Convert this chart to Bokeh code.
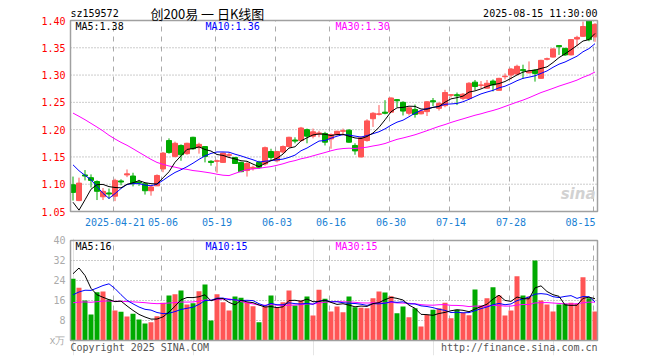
import numpy as np
from bokeh.plotting import figure
from bokeh.models import ColumnDataSource, FixedTicker, Label, NumeralTickFormatter, Range1d
from bokeh.layouts import column
from bokeh.embed import file_html
from bokeh.resources import INLINE

# ---------------- data ----------------
open_ = [1.099, 1.070, 1.117, 1.112, 1.105, 1.077, 1.084, 1.078, 1.106, 1.117,
         1.115, 1.104, 1.101, 1.088, 1.097, 1.128, 1.180, 1.151, 1.171, 1.156,
         1.186, 1.167, 1.169, 1.142, 1.142, 1.140, 1.153, 1.149, 1.140, 1.125,
         1.129, 1.140, 1.137, 1.160, 1.143, 1.159, 1.169, 1.181, 1.180, 1.200,
         1.188, 1.192, 1.193, 1.183, 1.191, 1.197, 1.199, 1.171, 1.150, 1.180,
         1.220, 1.228, 1.232, 1.232, 1.255, 1.250, 1.230, 1.237, 1.229, 1.233,
         1.253, 1.239, 1.244, 1.263, 1.264, 1.257, 1.257, 1.287, 1.281, 1.276,
         1.289, 1.272, 1.297, 1.300, 1.302, 1.310, 1.304, 1.309, 1.294, 1.329,
         1.333, 1.354, 1.349, 1.337, 1.366, 1.371, 1.400, 1.370]
high = [1.114, 1.112, 1.126, 1.118, 1.107, 1.093, 1.092, 1.110, 1.109, 1.127,
        1.121, 1.108, 1.101, 1.097, 1.118, 1.159, 1.184, 1.178, 1.173, 1.176,
        1.187, 1.176, 1.169, 1.144, 1.145, 1.158, 1.158, 1.150, 1.141, 1.141,
        1.134, 1.143, 1.169, 1.165, 1.161, 1.171, 1.187, 1.186, 1.205, 1.202,
        1.202, 1.198, 1.196, 1.193, 1.198, 1.202, 1.201, 1.175, 1.188, 1.219,
        1.232, 1.245, 1.254, 1.259, 1.256, 1.252, 1.241, 1.246, 1.235, 1.252,
        1.258, 1.251, 1.273, 1.265, 1.268, 1.267, 1.287, 1.291, 1.289, 1.291,
        1.292, 1.295, 1.303, 1.313, 1.319, 1.319, 1.325, 1.311, 1.328, 1.332,
        1.349, 1.355, 1.349, 1.366, 1.372, 1.398, 1.400, 1.395]
low = [1.070, 1.069, 1.107, 1.094, 1.071, 1.071, 1.073, 1.069, 1.098, 1.113,
       1.096, 1.097, 1.081, 1.079, 1.097, 1.122, 1.156, 1.149, 1.143, 1.154,
       1.163, 1.156, 1.140, 1.134, 1.121, 1.139, 1.149, 1.137, 1.122, 1.114,
       1.125, 1.128, 1.134, 1.143, 1.140, 1.156, 1.167, 1.175, 1.178, 1.175,
       1.184, 1.186, 1.171, 1.165, 1.189, 1.189, 1.176, 1.154, 1.149, 1.178,
       1.205, 1.226, 1.228, 1.232, 1.241, 1.226, 1.226, 1.222, 1.228, 1.225,
       1.243, 1.235, 1.241, 1.259, 1.245, 1.254, 1.255, 1.272, 1.276, 1.275,
       1.270, 1.272, 1.292, 1.292, 1.300, 1.293, 1.303, 1.288, 1.293, 1.327,
       1.332, 1.337, 1.335, 1.336, 1.353, 1.370, 1.362, 1.361]
close = [1.085, 1.102, 1.115, 1.107, 1.087, 1.087, 1.082, 1.107, 1.104, 1.119,
         1.101, 1.102, 1.088, 1.095, 1.116, 1.157, 1.158, 1.175, 1.154, 1.175,
         1.165, 1.173, 1.151, 1.140, 1.143, 1.157, 1.154, 1.138, 1.123, 1.138,
         1.131, 1.131, 1.167, 1.149, 1.160, 1.169, 1.186, 1.179, 1.203, 1.188,
         1.196, 1.194, 1.177, 1.191, 1.197, 1.198, 1.177, 1.161, 1.185, 1.216,
         1.230, 1.229, 1.230, 1.258, 1.253, 1.234, 1.240, 1.228, 1.234, 1.251,
         1.251, 1.248, 1.268, 1.264, 1.262, 1.265, 1.285, 1.279, 1.282, 1.285,
         1.282, 1.294, 1.298, 1.311, 1.316, 1.308, 1.307, 1.303, 1.327, 1.330,
         1.348, 1.352, 1.337, 1.365, 1.369, 1.389, 1.365, 1.393]
volume = [24.7, 21.1, 16.0, 10.4, 19.3, 19.6, 16.4, 12.0, 11.5, 9.6,
          10.7, 8.4, 6.8, 7.3, 9.7, 15.1, 18.0, 18.5, 20.0, 14.4,
          14.9, 19.7, 22.4, 8.0, 18.5, 15.3, 12.0, 17.6, 17.1, 15.3,
          13.7, 7.3, 13.6, 18.0, 13.1, 15.3, 20.0, 14.0, 16.0, 17.6,
          10.0, 20.3, 16.7, 11.6, 13.6, 11.3, 17.6, 13.3, 13.1, 12.9,
          16.9, 19.6, 19.2, 17.7, 10.9, 13.6, 9.3, 12.9, 5.6, 10.3,
          12.3, 12.9, 15.1, 8.9, 12.3, 11.2, 10.1, 20.4, 14.0, 16.9,
          21.3, 18.0, 10.0, 12.0, 25.7, 18.0, 17.6, 32.0, 16.0, 14.4,
          11.6, 14.4, 14.7, 15.1, 14.7, 25.3, 16.9, 11.6]

# closes / volumes of the 29 sessions before the first drawn candle
# (estimated so that the moving averages start where the reference's do)
prior_close = [1.280, 1.300, 1.310, 1.290, 1.300, 1.320, 1.310, 1.290, 1.280, 1.290,
               1.300, 1.280, 1.290, 1.285, 1.260, 1.250, 1.240, 1.230, 1.220, 1.230,
               1.210, 1.200, 1.190, 1.210, 1.210, 1.175, 1.020, 1.010, 1.045]
prior_volume = [14, 13, 15, 12, 13, 14, 16, 12, 13, 14,
                13, 12, 15, 14, 13, 12, 14, 13, 15, 13,
                10, 9, 11, 10, 9.5, 9.6, 31, 36, 32.2]

date_ticks = [7, 15, 24, 34, 43, 53, 63, 73, 87]
date_labels = ["2025-04-21", "05-06", "05-19", "06-03", "06-16",
               "06-30", "07-14", "07-28", "08-15"]
price_ticks = [1.05, 1.10, 1.15, 1.20, 1.25, 1.30, 1.35, 1.40]
volume_ticks = [0, 8, 16, 24, 32, 40]
volume_unit = "x万"

price_legend = ["MA5:1.38", "MA10:1.36", "MA30:1.30"]
volume_legend = ["MA5:16", "MA10:15", "MA30:15"]
code = "sz159572"
title = "创200易 一 日K线图"
stamp = "2025-08-15 11:30:00"
copyright_text = "Copyright 2025 SINA.COM"
url_text = "http://finance.sina.com.cn"

# ---------------- derived ----------------
RED = "#ff5555"
GREEN = "#00aa00"
n = len(close)
xs = list(range(n))
colors = [RED if c >= o else GREEN for o, c in zip(open_, close)]


def moving_average(prior, series, w):
    full = np.array(list(prior) + list(series), dtype=float)
    off = len(prior)
    return [float(full[off + i - w + 1: off + i + 1].mean()) for i in range(len(series))]


src = ColumnDataSource(dict(
    x=xs, open=open_, high=high, low=low, close=close, volume=volume,
    top=[max(o, c) for o, c in zip(open_, close)],
    bottom=[min(o, c) for o, c in zip(open_, close)],
    color=colors,
    ma5=moving_average(prior_close, close, 5),
    ma10=moving_average(prior_close, close, 10),
    ma30=moving_average(prior_close, close, 30),
    vma5=moving_average(prior_volume, volume, 5),
    vma10=moving_average(prior_volume, volume, 10),
    vma30=moving_average(prior_volume, volume, 30),
))

# ---------------- layout (page pixels) ----------------
PX_PER_IDX = 6.0
P_TOP, P_BOT = price_ticks[-1], price_ticks[0]
PX_PER_PRICE = 191 / (P_TOP - P_BOT)      # 1.40 at y=20, 1.05 at y=211
PX_PER_VOL = 2.5                          # 40 at y=240, 0 at y=340


def ix(px):      # page x -> index
    return (px - 72.5) / PX_PER_IDX


def py(px):      # page y -> price
    return P_TOP - (px - 20) / PX_PER_PRICE


def vy(px):      # page y -> volume
    return 40 - (px - 240) / PX_PER_VOL


MONO = "DejaVu Sans Mono"
CJK = "Noto Sans CJK SC"
GRID_V = "#aaaaaa"
GRID_H = "#999999"
FRAME = "#a0a0a0"
DATE_BLUE = "#1a7fd4"

XL, XR = ix(70), ix(597)                  # visible panel border
x_range = Range1d(ix(68), ix(599))
grid_x = [t - 0.25 for t in date_ticks]
label_x = date_ticks[:-1] + [ix(580)]     # last date label sits left of its line


def style_axis(ax, color, standoff):
    ax.axis_line_color = None
    ax.major_tick_line_color = None
    ax.minor_tick_line_color = None
    ax.major_tick_out = 0
    ax.major_tick_in = 0
    ax.minor_tick_out = 0
    ax.major_label_text_font = MONO
    ax.major_label_text_font_size = "10px"
    ax.major_label_text_color = color
    ax.major_label_standoff = standoff


def lab(p, x, y, text, color="#000000", font=MONO, size="10px", align="left",
        style="normal"):
    p.add_layout(Label(x=x, y=y, text=text, text_color=color, text_font=font,
                       text_font_size=size, text_align=align,
                       text_baseline="middle", text_font_style=style))


# ---------------- price panel ----------------
p1 = figure(frame_width=531, frame_height=213,
            min_border_left=68, min_border_right=20,
            min_border_top=0, min_border_bottom=19,
            x_range=x_range, y_range=Range1d(py(213), py(0)),
            output_backend="svg", toolbar_location=None, tools="")
p1.title.visible = False
p1.background_fill_color = "white"
p1.border_fill_color = "white"
p1.outline_line_color = None
p1.xgrid.visible = False
p1.ygrid.visible = False

p1.xaxis.ticker = FixedTicker(ticks=label_x)
p1.xaxis.major_label_overrides = {t: l for t, l in zip(label_x, date_labels)}
style_axis(p1.xaxis[0], DATE_BLUE, 4)
p1.yaxis.ticker = FixedTicker(ticks=price_ticks)
p1.yaxis.formatter = NumeralTickFormatter(format="0.00")
style_axis(p1.yaxis[0], "#ff0000", 3)

# grid and border
p1.segment(x0=grid_x, y0=P_BOT, x1=grid_x, y1=P_TOP, line_color=GRID_V,
           line_dash="5 5", line_width=1)
p1.segment(x0=XL, y0=price_ticks[1:-1], x1=XR, y1=price_ticks[1:-1],
           line_color=GRID_H, line_dash="1 2", line_width=1)

# candles
p1.segment(x0="x", y0="low", x1="x", y1="high", line_color="color",
           line_width=1, source=src)
p1.vbar(x="x", width=5 / 6, top="top", bottom="bottom", fill_color="color",
        line_color="color", line_width=1, source=src)
p1.line("x", "ma30", line_color="#ff00ff", line_width=1, source=src)
p1.line("x", "ma10", line_color="#0000ff", line_width=1, source=src)
p1.line("x", "ma5", line_color="#000000", line_width=1, source=src)
p1.quad(left=XL, right=XR, bottom=P_BOT, top=P_TOP, fill_color=None,
        line_color=FRAME, line_width=1.5)

lab(p1, ix(70), py(13), code)
lab(p1, ix(150), py(12.5), title, font=CJK, size="13px")
lab(p1, ix(597), py(13), stamp, align="right")
lab(p1, ix(75), py(26), price_legend[0], "#000000")
lab(p1, ix(205), py(26), price_legend[1], "#0000ff")
lab(p1, ix(335), py(26), price_legend[2], "#ff00ff")
lab(p1, ix(595), py(193), "sina", "#d2d2d2", font="DejaVu Sans", size="15px",
    align="right", style="bold italic")

# ---------------- volume panel ----------------
p2 = figure(frame_width=531, frame_height=117,
            min_border_left=68, min_border_right=20,
            min_border_top=6, min_border_bottom=5,
            x_range=x_range, y_range=Range1d(vy(355), vy(238)),
            x_axis_location=None,
            output_backend="svg", toolbar_location=None, tools="")
p2.title.visible = False
p2.background_fill_color = "white"
p2.border_fill_color = "white"
p2.outline_line_color = None
p2.ygrid.visible = False

p2.yaxis.ticker = FixedTicker(ticks=volume_ticks)
p2.yaxis.major_label_overrides = {volume_ticks[0]: volume_unit}
style_axis(p2.yaxis[0], "#aaaaaa", 3)

p2.segment(x0=grid_x, y0=volume_ticks[0], x1=grid_x, y1=volume_ticks[-1],
           line_color=GRID_V, line_dash="5 5", line_width=1)
p2.segment(x0=XL, y0=volume_ticks[1:-1], x1=XR, y1=volume_ticks[1:-1],
           line_color=GRID_H, line_dash="1 2", line_width=1)

p2.vbar(x="x", width=5 / 6, top="volume", bottom=0, fill_color="color",
        line_color=None, source=src)
p2.line("x", "vma30", line_color="#ff00ff", line_width=1, source=src)
p2.line("x", "vma10", line_color="#0000ff", line_width=1, source=src)
p2.line("x", "vma5", line_color="#000000", line_width=1, source=src)
p2.quad(left=XL, right=XR, bottom=volume_ticks[0], top=volume_ticks[-1],
        fill_color=None, line_color=FRAME, line_width=1.5)

lab(p2, ix(75), vy(246), volume_legend[0], "#000000")
lab(p2, ix(205), vy(246), volume_legend[1], "#0000ff")
lab(p2, ix(335), vy(246), volume_legend[2], "#ff00ff")
lab(p2, ix(70), vy(347), copyright_text, "#555555")
lab(p2, ix(597), vy(347), url_text, "#555555", align="right")

layout = column(p1, p2)
open("out.html", "w").write(file_html(layout, INLINE))
